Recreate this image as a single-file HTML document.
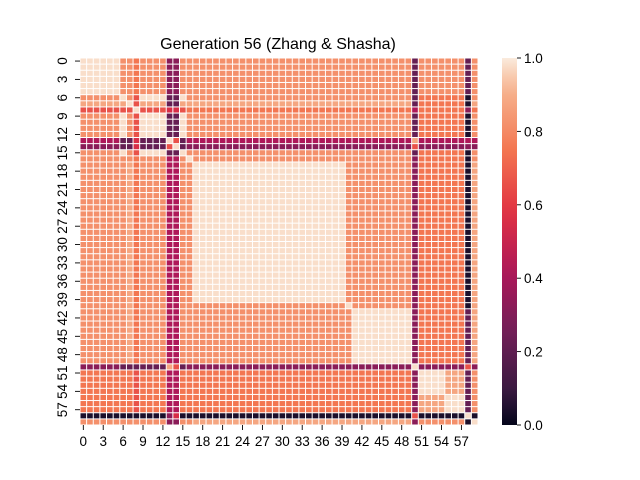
<!DOCTYPE html>
<html><head><meta charset="utf-8"><style>
html,body{margin:0;padding:0;background:#fff;}
svg{display:block;font-family:"Liberation Sans","DejaVu Sans",sans-serif;}
</style></head><body>
<svg id="chart" width="640" height="480" viewBox="0 0 640 480" xmlns="http://www.w3.org/2000/svg">
<rect width="640" height="480" fill="#fff"/>
<text x="278" y="49" text-anchor="middle" font-size="16" fill="#000">Generation 56 (Zhang &amp; Shasha)</text>
<g id="cells"></g>
<g id="xaxis"></g>
<g id="yaxis"></g>
<defs><linearGradient id="cbg" x1="0" y1="1" x2="0" y2="0"></linearGradient></defs>
<rect x="502" y="58" width="15" height="367" fill="url(#cbg)"/>
<g id="cbaxis"></g>
</svg>
<script>
// group membership for each of the 60 items (index into groupNames)
const groupNames = ["A","B","C7","C8","P13","P14","S16","D","S40","E","Q50","F","G","K58","S59"];
const itemGroups = [0,0,0,0,0,0,1,2,3,1,1,1,1,4,5,1,6,
 7,7,7,7,7,7,7,7,7,7,7,7,7,7,7,7,7,7,7,7,7,7,7,
 8,9,9,9,9,9,9,9,9,9,10,11,11,11,11,12,12,12,13,14];
// group-to-group similarity level codes (row group -> column group)
const groupLevels = [
 "WooOuuoooodoodo",
 "oWorddoooodOOko",
 "ppWrddppppdOOkp",
 "rrrWRROOOOmOOuO",
 "mddRWrmmmmpmmmm",
 "uddRruuuuuruuuu",
 "oooOmmWooouOOko",
 "oopOmmoWoouOOkp",
 "oopOmmooWouOOkp",
 "oopOmmoooWuOOdp",
 "udddpruuuuWuuru",
 "OOOrmmOOOOuWpdo",
 "OOOrmmOOOOupWdo",
 "kkkkuRkkkkrkkWk",
 "oooouuopppuookW"
];
const levelCodes = ["W","p","o","O","r","R","m","u","d","k"];
const levelValues = [0.98,0.88,0.82,0.75,0.66,0.55,0.42,0.32,0.22,0.04];
const xTickLabels = ["0","3","6","9","12","15","18","21","24","27","30","33","36","39","42","45","48","51","54","57"];
const yTickLabels = xTickLabels;
const cbTickLabels = ["0.0","0.2","0.4","0.6","0.8","1.0"];
</script>
<script>
const NS="http://www.w3.org/2000/svg";
const N=itemGroups.length;
const X0=80,X1=478,Y0=58,Y1=425;
const cw=(X1-X0)/N, ch=(Y1-Y0)/N;
function xs(i){return X0+i*cw;}
function ys(i){return Y0+i*ch;}
const stops=[[0,"#03051a"],[0.0833,"#35193e"],[0.25,"#701f57"],[0.4167,"#ad1759"],[0.5833,"#e13342"],[0.75,"#f37651"],[0.9167,"#f6b48f"],[1,"#faebdd"]];
function hex(c){return [1,3,5].map(k=>parseInt(c.substr(k,2),16));}
function cmap(v){v=Math.max(0,Math.min(1,v));
 for(let i=0;i<stops.length-1;i++){const a=stops[i],b=stops[i+1];
  if(v<=b[0]){const t=(v-a[0])/(b[0]-a[0]);const ca=hex(a[1]),cb=hex(b[1]);
   return "rgb("+ca.map((x,k)=>Math.round(x+(cb[k]-x)*t)).join(",")+")";}}
 return stops[stops.length-1][1];}
function code(gi,gj){if(gi===gj)return "W";return groupLevels[gi][gj]||"o";}
const cells=document.getElementById("cells");
for(let i=0;i<N;i++){for(let j=0;j<N;j++){
 const c=code(itemGroups[i],itemGroups[j]);
 const v=levelValues[levelCodes.indexOf(c)];
 const r=document.createElementNS(NS,"rect");
 r.setAttribute("x",xs(j)+0.5);r.setAttribute("y",ys(i)+0.5);
 r.setAttribute("width",cw-1);r.setAttribute("height",ch-1);
 r.setAttribute("fill",cmap(v));
 
 
 cells.appendChild(r);}}
const xa=document.getElementById("xaxis"),ya=document.getElementById("yaxis");
xTickLabels.forEach(l=>{const k=+l;const x=xs(k+0.5);
 const t=document.createElementNS(NS,"line");t.setAttribute("x1",x);t.setAttribute("x2",x);t.setAttribute("y1",Y1);t.setAttribute("y2",Y1+5);t.setAttribute("stroke","#000");t.setAttribute("stroke-width","0.9");
 
 
 xa.appendChild(t);
 const s=document.createElementNS(NS,"text");s.setAttribute("x",x);s.setAttribute("y",Y1+21);s.setAttribute("text-anchor","middle");s.setAttribute("font-size","13.5");s.textContent=l;
 
 
 xa.appendChild(s);});
yTickLabels.forEach(l=>{const k=+l;const y=ys(k+0.5);
 const t=document.createElementNS(NS,"line");t.setAttribute("x1",X0-5);t.setAttribute("x2",X0);t.setAttribute("y1",y);t.setAttribute("y2",y);t.setAttribute("stroke","#000");t.setAttribute("stroke-width","0.9");
 
 
 ya.appendChild(t);
 const s=document.createElementNS(NS,"text");s.setAttribute("transform","translate(67,"+y+") rotate(-90)");s.setAttribute("text-anchor","middle");s.setAttribute("font-size","13.5");s.textContent=l;
 
 
 ya.appendChild(s);});
const g=document.getElementById("cbg");
for(let i=0;i<=20;i++){const st=document.createElementNS(NS,"stop");st.setAttribute("offset",i/20);st.setAttribute("stop-color",cmap(i/20));g.appendChild(st);}
const cb=document.getElementById("cbaxis");
cbTickLabels.forEach(l=>{const v=+l;const y=Y1-v*(Y1-Y0);
 const t=document.createElementNS(NS,"line");t.setAttribute("x1",517);t.setAttribute("x2",521);t.setAttribute("y1",y);t.setAttribute("y2",y);t.setAttribute("stroke","#000");t.setAttribute("stroke-width","0.9");
 
 
 cb.appendChild(t);
 const s=document.createElementNS(NS,"text");s.setAttribute("x",524);s.setAttribute("y",y+5);s.setAttribute("font-size","13.5");s.textContent=l;
 
 
 cb.appendChild(s);});
</script>
</body></html>
